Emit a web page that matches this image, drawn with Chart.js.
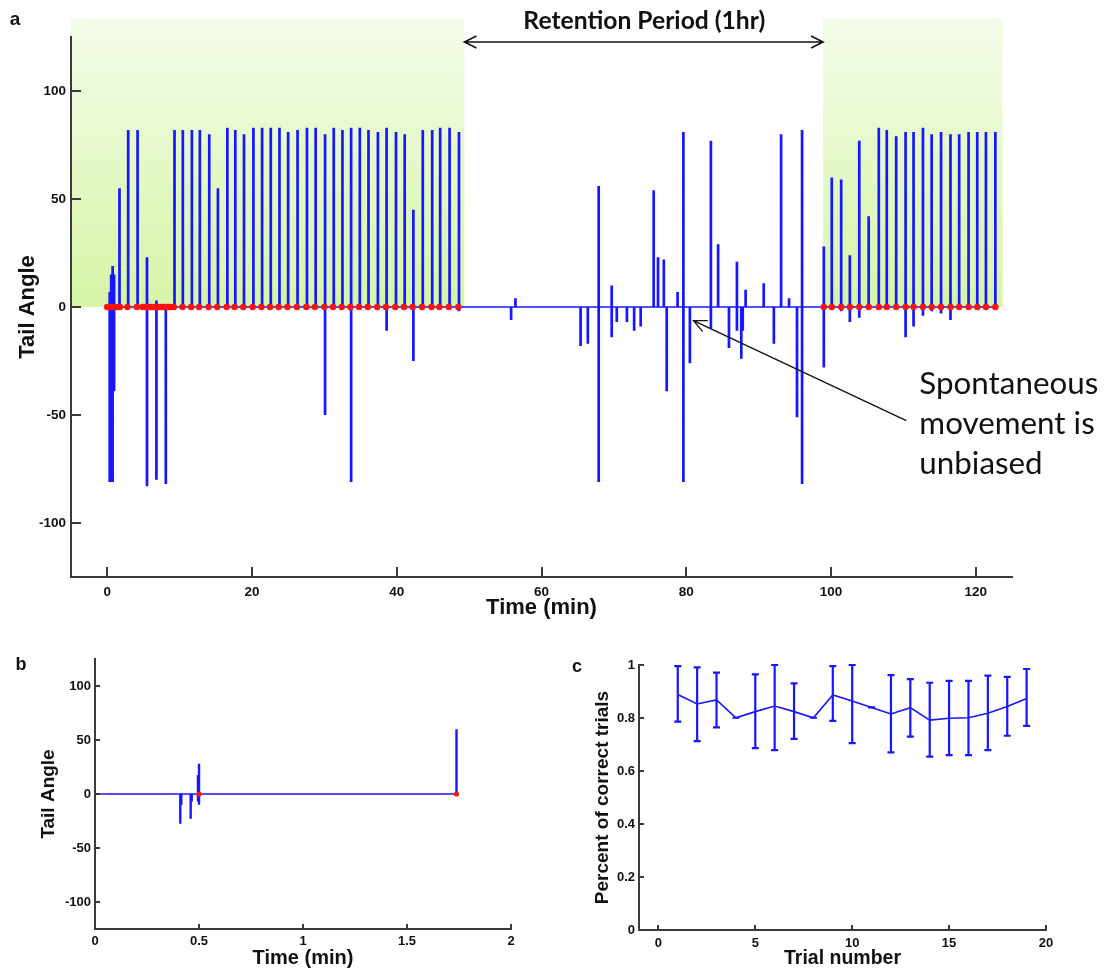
<!DOCTYPE html>
<html><head><meta charset="utf-8">
<script src="https://cdn.jsdelivr.net/npm/chart.js@4.4.1/dist/chart.umd.min.js"></script>
<style>
html,body{margin:0;padding:0;background:#fff;}
#wrap{position:relative;width:1105px;height:970px;overflow:hidden;background:#fff;}
canvas{position:absolute;}
</style></head><body>
<div id="wrap">
<canvas id="ca" width="1105" height="640" style="left:0;top:0"></canvas>
<canvas id="cb" width="550" height="330" style="left:0;top:640px"></canvas>
<canvas id="cc" width="555" height="330" style="left:550px;top:640px"></canvas>
</div>
<script>
// ---------------- Panel a data ----------------
const aSpikeTime = [0.35,0.55,0.75,0.95,1.7,2.9,4.2,5.5,6.8,8.1,9.3,10.45,11.7,12.8,14.1,15.3,16.6,17.7,18.9,20.2,21.4,22.6,23.8,25.0,26.3,27.6,28.8,30.1,31.3,32.5,33.7,34.9,36.1,37.4,38.6,39.9,41.1,42.3,43.6,44.9,46.0,47.3,48.6,
  55.8,56.4,65.4,66.4,67.9,69.7,70.4,71.8,72.8,73.7,75.5,76.1,76.9,77.3,78.8,79.6,80.5,83.4,84.4,85.9,87.0,87.6,87.8,88.2,90.7,92.1,93.1,94.2,95.3,96.0,
  99.0,100.1,101.4,102.6,103.9,105.2,106.6,107.7,109.0,110.3,111.4,112.7,113.9,115.2,116.5,117.7,119.0,120.2,121.4,122.7];
const aSpikeMax = [7,15,19,15,55,82,82,23,3,0,82,82,82,82,80,55,83,82,80,83,83,83,83,81,82,83,83,80,83,82,83,83,82,81,83,81,80,45,82,82,83,83,81,
  0,4,0,0,56,10,0,0,0,0,54,23,22,0,7,81,0,77,29,0,21,0,0,8,11,0,80,4,0,82,
  28,60,59,24,77,42,83,82,79,81,81,83,80,81,80,80,81,81,81,81];
const aSpikeMin = [-81,-81,-81,-39,0,0,0,-83,-80,-82,0,0,0,0,0,0,0,0,0,0,0,0,0,0,0,0,0,-50,0,0,-81,0,0,0,-11,0,0,-25,0,0,0,0,-2,
  -6,0,-18,-17,-81,-14,-7,-7,-11,-9,0,0,0,-39,0,-81,-26,-10,0,-19,-11,-24,-11,0,0,-17,0,0,-51,-82,
  -28,0,-2,-7,-5,0,0,0,0,-14,-9,-4,-2,-3,-6,0,0,0,0,0];
const aTrialTime = [0.0,0.3,0.6,0.9,1.2,1.5,1.75,2.8,4.1,4.9,5.2,5.5,5.8,6.1,6.4,6.7,7.0,7.3,7.6,7.9,8.2,8.5,8.8,9.2,
  10.4,11.6,12.7,14.0,15.2,16.5,17.6,18.8,20.1,21.3,22.5,23.7,24.9,26.2,27.5,28.7,30.0,31.2,32.4,33.6,34.8,36.0,37.3,38.5,39.8,41.0,42.2,43.5,44.8,45.9,47.2,48.5,
  99.0,100.1,101.4,102.6,103.9,105.2,106.6,107.7,109.0,110.3,111.4,112.7,113.9,115.2,116.5,117.7,119.0,120.2,121.4,122.7];
const aBaselineTime = [0, 122.7];
const aTrainStart = [-5, 98.9];
const aTrainEnd = [49.35, 123.7];
const aXTicks = [0,20,40,60,80,100,120];
const aYTicks = [-100,-50,0,50,100];

// ---------------- Panel b data ----------------
const bSpikeTime = [0.41,0.415,0.46,0.465,0.495,0.50,1.738];
const bSpikeMax = [0,0,0,0,17.5,28,60];
const bSpikeMin = [-27.6,-10,-23,-7,-7,-10,0];
const bTrialTime = [0.50,1.738];
const bBaselineTime = [0,1.738];
const bXTicks = [0,0.5,1,1.5,2];
const bYTicks = [-100,-50,0,50,100];

// ---------------- Panel c data ----------------
const cTrial = [1,2,3,4,5,6,7,8,9,10,11,12,13,14,15,16,17,18,19];
const cMean  = [0.889,0.853,0.868,0.801,0.824,0.845,0.824,0.801,0.887,0.864,0.840,0.815,0.839,0.792,0.799,0.801,0.818,0.843,0.874];
const cUpper = [0.996,0.991,0.971,0.801,0.965,1.000,0.931,0.801,0.996,1.000,0.840,0.962,0.947,0.933,0.940,0.940,0.960,0.955,0.985];
const cLower = [0.786,0.713,0.765,0.801,0.686,0.679,0.721,0.801,0.789,0.705,0.840,0.670,0.730,0.654,0.660,0.660,0.679,0.733,0.770];
const cXTicks = [0,5,10,15,20];
const cYTicks = [0,0.2,0.4,0.6,0.8,1];

// ---------------- styles ----------------
const BLUE = 'rgb(22,22,255)';
const RED = '#ff1010';
const AXC = '#3a3a3a';
const ARIAL = "'Liberation Sans', Arial, sans-serif";
const CAL = "Lato, 'Open Sans', sans-serif";

function spikeData(ts, mx, mn){
  const d = [];
  ts.forEach((t,i)=>{ d.push({x:t,y:mn[i]},{x:t,y:mx[i]},{x:t,y:null}); });
  return d;
}
function zeroPts(ts){ return ts.map(t=>({x:t,y:0})); }

const inwardTicks = {
  id:'inwardTicks',
  afterDraw(chart, args, opts){
    const {ctx, chartArea:ca} = chart;
    const xs = chart.scales.x, ys = chart.scales.y;
    ctx.save();
    ctx.strokeStyle = AXC; ctx.lineWidth = opts.width || 2;
    ctx.beginPath();
    xs.ticks.forEach(t=>{ const p = Math.round(xs.getPixelForValue(t.value)); ctx.moveTo(p, ca.bottom); ctx.lineTo(p, ca.bottom - opts.len); });
    ys.ticks.forEach(t=>{ const p = Math.round(ys.getPixelForValue(t.value)); ctx.moveTo(ca.left, p); ctx.lineTo(ca.left + opts.len, p); });
    ctx.stroke();
    ctx.restore();
  }
};
const panelLabel = {
  id:'panelLabel',
  afterDraw(chart, args, opts){
    const ctx = chart.ctx;
    ctx.save();
    ctx.font = `bold ${opts.size}px ${ARIAL}`;
    ctx.fillStyle = '#111'; ctx.textAlign='center'; ctx.textBaseline='middle';
    ctx.fillText(opts.text, opts.x, opts.y);
    ctx.restore();
  }
};
function arrowHead(ctx, tx, ty, fx, fy, len, half){
  const a = Math.atan2(ty-fy, tx-fx);
  const c = Math.cos(a), s = Math.sin(a);
  ctx.moveTo(tx - len*c + half*s, ty - len*s - half*c);
  ctx.lineTo(tx, ty);
  ctx.lineTo(tx - len*c - half*s, ty - len*s + half*c);
}
function fitSize(ctx, text, weight, family, target){
  ctx.font = `${weight} 20px ${family}`;
  return 20 * target / ctx.measureText(text).width;
}

// annotation positions (data coordinates of panel a)
const retentionArrowY = 122.7;
const retentionLabel = 'Retention Period (1hr)';
const retentionLabelX = 74.2, retentionLabelY = 132.4;
const shadeTop = 133.3;
const spontLines = ['Spontaneous','movement is','unbiased'];
const spontX = 112.2, spontY = [-40.5,-59,-77.5];
const spontArrowFrom = [110.4,-52.6], spontArrowTo = [81.0,-6.3];

const panelA = {
  id:'panelA',
  beforeDraw(chart){
    const {ctx} = chart; const x = chart.scales.x, y = chart.scales.y;
    const yt = y.getPixelForValue(shadeTop), y0 = y.getPixelForValue(0);
    const g = ctx.createLinearGradient(0, yt, 0, y0);
    g.addColorStop(0, '#f3fce9'); g.addColorStop(1, '#d6f5a6');
    ctx.save(); ctx.fillStyle = g;
    aTrainStart.forEach((s,i)=>{
      const x1 = x.getPixelForValue(s), x2 = x.getPixelForValue(aTrainEnd[i]);
      ctx.fillRect(x1, yt, x2-x1, y0-yt);
    });
    ctx.restore();
  },
  afterDraw(chart){
    const {ctx} = chart; const x = chart.scales.x, y = chart.scales.y;
    ctx.save();
    ctx.strokeStyle = '#111'; ctx.lineWidth = 1.6; ctx.fillStyle = '#111';
    const ay = y.getPixelForValue(retentionArrowY);
    const ax1 = x.getPixelForValue(aTrainEnd[0]), ax2 = x.getPixelForValue(aTrainStart[1]);
    ctx.beginPath();
    ctx.moveTo(ax1, ay); ctx.lineTo(ax2, ay);
    arrowHead(ctx, ax1, ay, ax2, ay, 12, 6);
    arrowHead(ctx, ax2, ay, ax1, ay, 12, 6);
    ctx.stroke();
    let fs = fitSize(ctx, retentionLabel, 'bold', CAL, 242);
    ctx.font = `bold ${fs}px ${CAL}`;
    ctx.textAlign = 'center'; ctx.textBaseline = 'middle';
    ctx.fillText(retentionLabel, x.getPixelForValue(retentionLabelX), y.getPixelForValue(retentionLabelY));
    const fx = x.getPixelForValue(spontArrowFrom[0]), fy = y.getPixelForValue(spontArrowFrom[1]);
    const tx = x.getPixelForValue(spontArrowTo[0]), ty = y.getPixelForValue(spontArrowTo[1]);
    ctx.lineWidth = 1.3;
    ctx.beginPath(); ctx.moveTo(fx, fy); ctx.lineTo(tx, ty); arrowHead(ctx, tx, ty, fx, fy, 13, 6); ctx.stroke();
    fs = fitSize(ctx, spontLines[0], 'normal', CAL, 179);
    ctx.font = `normal ${fs}px ${CAL}`;
    ctx.textAlign = 'left'; ctx.textBaseline = 'alphabetic';
    spontLines.forEach((l,i)=> ctx.fillText(l, x.getPixelForValue(spontX), y.getPixelForValue(spontY[i])));
    ctx.restore();
  }
};

const errorBars = {
  id:'errorBars',
  afterDatasetsDraw(chart){
    const {ctx} = chart; const x = chart.scales.x, y = chart.scales.y;
    ctx.save(); ctx.strokeStyle = BLUE; ctx.lineWidth = 2.2; ctx.beginPath();
    cTrial.forEach((t,i)=>{
      const px = x.getPixelForValue(t), pu = y.getPixelForValue(cUpper[i]), pl = y.getPixelForValue(cLower[i]);
      ctx.moveTo(px, pu); ctx.lineTo(px, pl);
      ctx.moveTo(px-3.5, pu); ctx.lineTo(px+3.5, pu);
      ctx.moveTo(px-3.5, pl); ctx.lineTo(px+3.5, pl);
    });
    ctx.stroke(); ctx.restore();
  }
};

function axisCfg(o){
  return {
    type:'linear', min:o.min, max:o.max,
    afterFit(s){ if (o.w !== undefined) s.width = o.w; if (o.h !== undefined) s.height = o.h; },
    afterBuildTicks(s){ s.ticks = o.ticks.map(v=>({value:v})); },
    grid:{display:false, drawTicks:false, tickLength:0},
    border:{display:true, color:AXC, width:2},
    ticks:{ font:{family:ARIAL, size:o.tickSize, weight:'bold'}, color:'#111', padding:o.pad, maxRotation:0, autoSkip:false, callback:(v)=>String(v) },
    title:{ display:true, text:o.title, color:'#111', font:{family:ARIAL, size:o.titleSize, weight:'bold'}, padding:o.titlePad }
  };
}
const common = (pad)=>({
  responsive:false, animation:false, events:[],
  layout:{padding:pad},
  plugins:{legend:{display:false}, tooltip:{enabled:false}}
});

// ---------------- Panel a ----------------
const optA = common({left:0, top:37, right:93, bottom:0});
optA.plugins.inwardTicks = {len:10, width:2};
optA.plugins.panelLabel = {text:'a', x:15, y:20, size:19};
optA.scales = {
  x: axisCfg({min:-5, max:125, h:63, ticks:aXTicks, tickSize:13.5, pad:7, title:'Time (min)', titleSize:22, titlePad:{top:0,bottom:19}}),
  y: axisCfg({min:-125, max:125, w:71, ticks:aYTicks, tickSize:13.5, pad:5, title:'Tail Angle', titleSize:22, titlePad:{top:15,bottom:0}})
};
new Chart(document.getElementById('ca'), {
  type:'line',
  data:{datasets:[
    {label:'Trials', data:zeroPts(aTrialTime), showLine:false, pointRadius:3.2, pointBackgroundColor:RED, pointBorderWidth:0, order:0},
    {label:'Tail angle', data:spikeData(aSpikeTime,aSpikeMax,aSpikeMin), borderColor:BLUE, borderWidth:2.7, pointRadius:0, spanGaps:false, tension:0, order:1},
    {label:'Baseline', data:zeroPts(aBaselineTime), borderColor:BLUE, borderWidth:1.4, pointRadius:0, order:2}
  ]},
  options:optA,
  plugins:[panelA, inwardTicks, panelLabel]
});

// ---------------- Panel b ----------------
const optB = common({left:0, top:19, right:39, bottom:0});
optB.plugins.inwardTicks = {len:5, width:2};
optB.plugins.panelLabel = {text:'b', x:21, y:25, size:18};
optB.scales = {
  x: axisCfg({min:0, max:2, h:41, ticks:bXTicks, tickSize:13, pad:5, title:'Time (min)', titleSize:20, titlePad:{top:0,bottom:0}}),
  y: axisCfg({min:-125, max:125, w:95, ticks:bYTicks, tickSize:13, pad:4, title:'Tail Angle', titleSize:19, titlePad:{top:37,bottom:0}})
};
new Chart(document.getElementById('cb'), {
  type:'line',
  data:{datasets:[
    {label:'Trials', data:zeroPts(bTrialTime), showLine:false, pointRadius:2.6, pointBackgroundColor:RED, pointBorderWidth:0, order:0},
    {label:'Tail angle', data:spikeData(bSpikeTime,bSpikeMax,bSpikeMin), borderColor:BLUE, borderWidth:2.4, pointRadius:0, spanGaps:false, tension:0, order:1},
    {label:'Baseline', data:zeroPts(bBaselineTime), borderColor:BLUE, borderWidth:1.6, pointRadius:0, order:2}
  ]},
  options:optB,
  plugins:[inwardTicks, panelLabel]
});

// ---------------- Panel c ----------------
const optC = common({left:0, top:25, right:59, bottom:0});
optC.plugins.inwardTicks = {len:5, width:2};
optC.plugins.panelLabel = {text:'c', x:27, y:27, size:18};
optC.scales = {
  x: axisCfg({min:-1, max:20, h:40, ticks:cXTicks, tickSize:13, pad:6, title:'Trial number', titleSize:19.5, titlePad:{top:0,bottom:0}}),
  y: axisCfg({min:0, max:1, w:89, ticks:cYTicks, tickSize:13, pad:4, title:'Percent of correct trials', titleSize:19, titlePad:{top:41,bottom:0}})
};
new Chart(document.getElementById('cc'), {
  type:'line',
  data:{datasets:[
    {label:'Percent correct', data:cTrial.map((t,i)=>({x:t,y:cMean[i]})), borderColor:BLUE, borderWidth:1.6, pointRadius:0, tension:0}
  ]},
  options:optC,
  plugins:[errorBars, inwardTicks, panelLabel]
});
</script>
</body></html>
